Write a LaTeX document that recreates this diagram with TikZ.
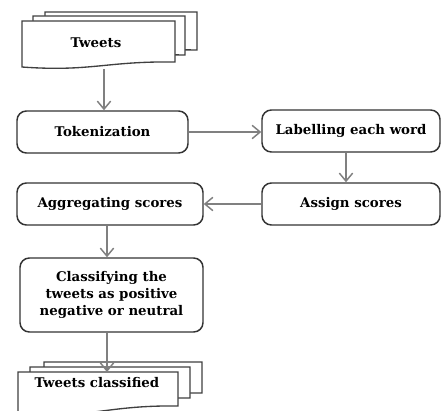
\documentclass[tikz,border=0pt]{standalone}
\usepackage{fontspec}
\setmainfont{DejaVu Serif}
\usetikzlibrary{arrows.meta,calc}
\tikzset{
  boxnode/.style={draw=black!80, line width=1.1pt, rounded corners=7pt, fill=white,
    font=\bfseries\fontsize{10}{12.75}\selectfont, align=center, inner sep=0pt},
  docpath/.style={draw=black!75, line width=1pt, fill=white},
  lbl/.style={font=\bfseries\fontsize{10}{12.75}\selectfont, align=center, inner sep=1pt},
  arr/.style={draw=black!50, line width=1.6pt, -{Straight Barb[length=6pt,width=10pt,line width=1.1pt]}}
}
\newcommand\mydoc[5]{% l, t, r, bl, br
  \path[docpath] (#1,#2) -- (#3,#2) -- (#3,#5)
    .. controls ({#3-0.45*(#3-#1)},{#5-1}) and ({#1+0.45*(#3-#1)},{#4+5}) .. (#1,#4) -- cycle;}
\begin{document}
\begin{tikzpicture}[x=0.75pt,y=-0.75pt]
\useasboundingbox (0,0) rectangle (442,410);
\clip (0,0) rectangle (442,410);
\fill[white] (0,0) rectangle (442,410);
% Tweets stack
\mydoc{45}{12}{197}{46}{50}
\mydoc{33}{16}{185}{51}{55}
\mydoc{22}{21}{175}{67}{62}
\node[lbl] (tweets) at (96,43) {Tweets};
\coordinate (twbot) at (104,69);
% boxes
\node[boxnode, minimum width=171*0.75pt, minimum height=42*0.75pt] (tok) at (102.5,132) {Tokenization};
\node[boxnode, minimum width=178*0.75pt, minimum height=42*0.75pt] (lab) at (351,131) {Labelling each word};
\node[boxnode, minimum width=178*0.75pt, minimum height=42*0.75pt] (ass) at (351,204) {Assign scores};
\node[boxnode, minimum width=186*0.75pt, minimum height=42*0.75pt] (agg) at (110,204) {Aggregating scores};
\node[boxnode, minimum width=183*0.75pt, minimum height=74*0.75pt] (cls) at (111.5,295) {Classifying the\\tweets as positive\\negative or neutral};
% Tweets classified stack
\mydoc{44}{362}{202}{400}{393}
\mydoc{30}{367}{190}{405}{398}
\mydoc{18}{372}{178}{414}{406}
\node[lbl] (tc) at (97,383) {Tweets classified};
\coordinate (tctop) at (107,372);
% connectors
\coordinate (ax) at (107,0);
\coordinate (bx) at (346,0);
\draw[arr] (twbot) -- (twbot |- tok.north);
\draw[arr] (tok.east) -- (tok.east -| lab.west);
\draw[arr] (bx |- lab.south) -- (bx |- ass.north);
\draw[arr] (ass.west) -- (ass.west -| agg.east);
\draw[arr] (ax |- agg.south) -- (ax |- cls.north);
\draw[arr] (ax |- cls.south) -- (tctop);
\end{tikzpicture}
\end{document}
